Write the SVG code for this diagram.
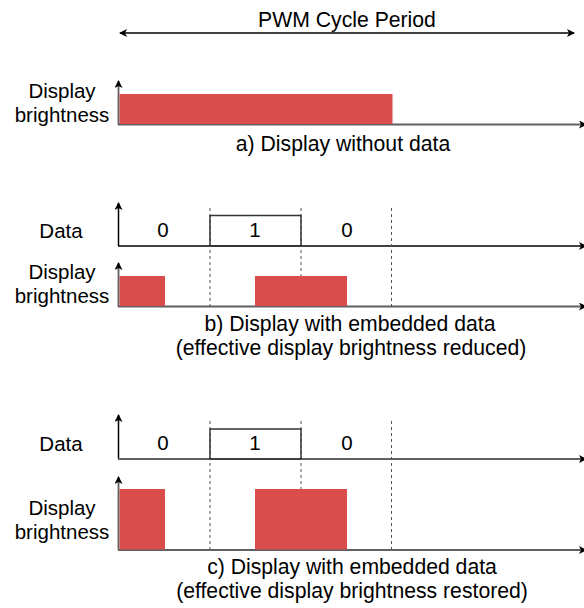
<svg xmlns="http://www.w3.org/2000/svg" width="584" height="608" viewBox="0 0 584 608">
<style>
text{font-family:"Liberation Sans",Arial,sans-serif;font-size:20.5px;fill:#000}
.t{text-anchor:middle}
.cap{font-size:21.2px}
.bar{fill:#da4d4d}
.ax{fill:none;stroke:#000;stroke-width:1.5}
.axg{fill:none;stroke:#606060;stroke-width:1.8}
.dash{fill:none;stroke:#555;stroke-width:1;stroke-dasharray:3,3}
.box{fill:none;stroke:#333;stroke-width:1.5}
</style>
<defs>
<marker id="ah" markerWidth="10" markerHeight="10" refX="7" refY="4" orient="auto" markerUnits="userSpaceOnUse">
<path d="M0,0 L8,4 L0,8 L2,4 z" fill="#000"/>
</marker>
<marker id="ahs" markerWidth="10" markerHeight="10" refX="7" refY="4" orient="auto-start-reverse" markerUnits="userSpaceOnUse">
<path d="M0,0 L8,4 L0,8 L2,4 z" fill="#000"/>
</marker>
</defs>

<g id="title">
<text class="t" x="347" y="27" style="font-size:21.2px">PWM Cycle Period</text>
</g>

<g id="connectors">
<line x1="120" y1="33" x2="574" y2="33" class="ax" stroke-width="1.3" marker-start="url(#ahs)" marker-end="url(#ahs)"/>
<!-- a -->
<line x1="118.5" y1="125" x2="118.5" y2="81" class="axg" marker-end="url(#ah)"/>
<line x1="118" y1="124.5" x2="586" y2="124.5" class="axg" marker-end="url(#ah)"/>
<!-- b -->
<line x1="118.5" y1="246" x2="118.5" y2="203" class="ax" marker-end="url(#ah)"/>
<line x1="118" y1="246" x2="586" y2="246" class="ax" marker-end="url(#ah)"/>
<line x1="118.5" y1="307" x2="118.5" y2="263" class="axg" marker-end="url(#ah)"/>
<line x1="118" y1="306.5" x2="586" y2="306.5" class="axg" marker-end="url(#ah)"/>
<line x1="210" y1="208" x2="210" y2="307" class="dash"/>
<line x1="301" y1="208" x2="301" y2="307" class="dash"/>
<line x1="391.5" y1="208" x2="391.5" y2="307" class="dash"/>
<!-- c -->
<line x1="118.5" y1="459" x2="118.5" y2="415" class="ax" marker-end="url(#ah)"/>
<line x1="118" y1="459" x2="586" y2="459" class="axg" marker-end="url(#ah)"/>
<line x1="118.5" y1="550" x2="118.5" y2="477" class="axg" marker-end="url(#ah)"/>
<line x1="118" y1="550" x2="586" y2="550" class="axg" marker-end="url(#ah)"/>
<line x1="210" y1="421" x2="210" y2="550" class="dash"/>
<line x1="301" y1="421" x2="301" y2="550" class="dash"/>
<line x1="391.5" y1="421" x2="391.5" y2="550" class="dash"/>
</g>

<g id="panel-a">
<text class="t" x="62" y="98">Display</text>
<text class="t" x="62" y="122">brightness</text>
<rect class="bar" x="119.5" y="94" width="273" height="30"/>
<text class="t cap" x="343" y="151">a) Display without data</text>
</g>

<g id="panel-b">
<text class="t" x="61" y="238">Data</text>
<rect class="box" x="210" y="215.5" width="91" height="30.5"/>
<text class="t" x="163" y="237">0</text>
<text class="t" x="255" y="237">1</text>
<text class="t" x="347" y="237">0</text>
<text class="t" x="62" y="279">Display</text>
<text class="t" x="62" y="303">brightness</text>
<rect class="bar" x="119.5" y="276" width="45.5" height="30"/>
<rect class="bar" x="255" y="276" width="92" height="30"/>
<text class="t cap" x="350" y="331">b) Display with embedded data</text>
<text class="t cap" x="351" y="355">(effective display brightness reduced)</text>
</g>

<g id="panel-c">
<text class="t" x="61" y="451">Data</text>
<rect class="box" x="210" y="429" width="91" height="30"/>
<text class="t" x="163" y="450">0</text>
<text class="t" x="255" y="450">1</text>
<text class="t" x="347" y="450">0</text>
<text class="t" x="62" y="515">Display</text>
<text class="t" x="62" y="539">brightness</text>
<rect class="bar" x="119.5" y="489" width="45.5" height="60.5"/>
<rect class="bar" x="255" y="489" width="92" height="60.5"/>
<text class="t cap" x="352" y="574">c) Display with embedded data</text>
<text class="t cap" x="352" y="598">(effective display brightness restored)</text>
</g>
</svg>
